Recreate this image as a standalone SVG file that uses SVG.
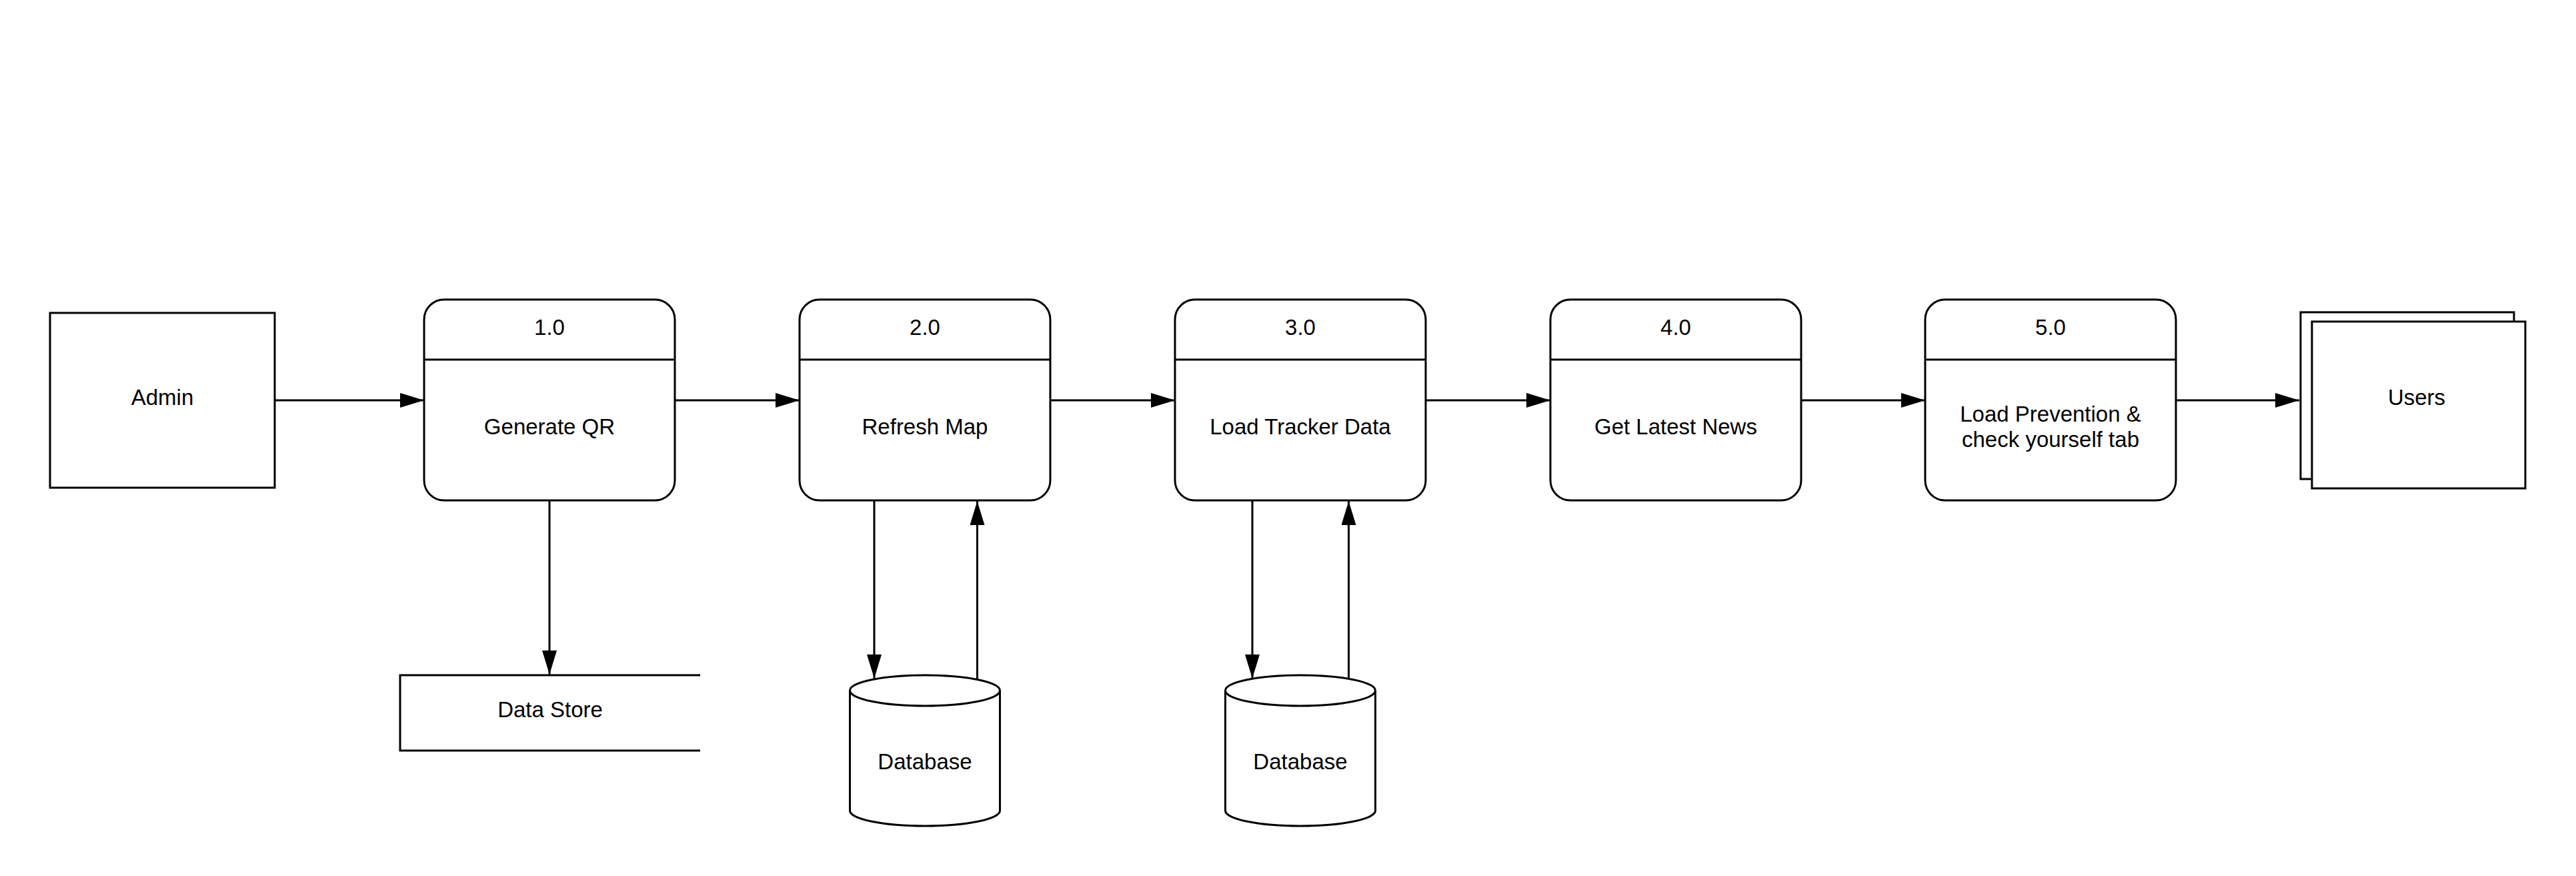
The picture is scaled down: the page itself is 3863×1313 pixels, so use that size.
<svg xmlns="http://www.w3.org/2000/svg" width="3863" height="1313" viewBox="0 0 3863 1313">
<defs>
<style>
.s{fill:#fff;stroke:#000;stroke-width:3}
.o{fill:none;stroke:#000;stroke-width:3}
.t{font-family:"Liberation Sans",Arial,sans-serif;font-size:33px;fill:#000;text-anchor:middle}
.c{fill:none;stroke:#000;stroke-width:3}
</style>
<marker id="ah" markerWidth="36" markerHeight="22" refX="36" refY="11" orient="auto" markerUnits="userSpaceOnUse">
<path d="M0,0 L36,11 L0,22 Z" fill="#000"/>
</marker>
</defs>
<rect width="3863" height="1313" fill="#fff"/>
<g id="admin">
<rect class="s" x="75" y="469" width="337" height="262"/>
<text class="t" x="243.5" y="607">Admin</text>
</g>
<g id="p1">
<rect class="s" x="636" y="449" width="376" height="301" rx="30" ry="30"/>
<line class="o" x1="636" y1="539" x2="1012" y2="539"/>
<text class="t" x="824" y="502">1.0</text>
<text class="t" x="824" y="651">Generate QR</text>
</g>
<g id="p2">
<rect class="s" x="1199" y="449" width="376" height="301" rx="30" ry="30"/>
<line class="o" x1="1199" y1="539" x2="1575" y2="539"/>
<text class="t" x="1387" y="502">2.0</text>
<text class="t" x="1387" y="651">Refresh Map</text>
</g>
<g id="p3">
<rect class="s" x="1762" y="449" width="376" height="301" rx="30" ry="30"/>
<line class="o" x1="1762" y1="539" x2="2138" y2="539"/>
<text class="t" x="1950" y="502">3.0</text>
<text class="t" x="1950" y="651">Load Tracker Data</text>
</g>
<g id="p4">
<rect class="s" x="2325" y="449" width="376" height="301" rx="30" ry="30"/>
<line class="o" x1="2325" y1="539" x2="2701" y2="539"/>
<text class="t" x="2513" y="502">4.0</text>
<text class="t" x="2513" y="651">Get Latest News</text>
</g>
<g id="p5">
<rect class="s" x="2887" y="449" width="376" height="301" rx="30" ry="30"/>
<line class="o" x1="2887" y1="539" x2="3263" y2="539"/>
<text class="t" x="3075" y="502">5.0</text>
<text class="t" x="3075" y="632">Load Prevention &amp;</text>
<text class="t" x="3075" y="670">check yourself tab</text>
</g>
<g id="users">
<rect class="s" x="3450" y="468" width="320" height="250"/>
<rect class="s" x="3467" y="482" width="320" height="250"/>
<text class="t" x="3624" y="607">Users</text>
</g>
<g id="datastore">
<path class="o" d="M1050,1012 L600,1012 L600,1125 L1050,1125"/>
<text class="t" x="825" y="1075">Data Store</text>
</g>
<g id="db1">
<path class="s" d="M1274.5,1035 L1274.5,1215 A112.5,23 0 0 0 1499.5,1215 L1499.5,1035"/>
<ellipse class="s" cx="1387" cy="1035" rx="112.5" ry="23"/>
<text class="t" x="1387" y="1153">Database</text>
</g>
<g id="db2">
<path class="s" d="M1837.5,1035 L1837.5,1215 A112.5,23 0 0 0 2062.5,1215 L2062.5,1035"/>
<ellipse class="s" cx="1950" cy="1035" rx="112.5" ry="23"/>
<text class="t" x="1950" y="1153">Database</text>
</g>
<g id="connectors">
<line class="c" x1="412" y1="600" x2="636" y2="600" marker-end="url(#ah)"/>
<line class="c" x1="1012" y1="600" x2="1199" y2="600" marker-end="url(#ah)"/>
<line class="c" x1="1575" y1="600" x2="1762" y2="600" marker-end="url(#ah)"/>
<line class="c" x1="2138" y1="600" x2="2325" y2="600" marker-end="url(#ah)"/>
<line class="c" x1="2701" y1="600" x2="2887" y2="600" marker-end="url(#ah)"/>
<line class="c" x1="3263" y1="600" x2="3448" y2="600" marker-end="url(#ah)"/>
<line class="c" x1="824" y1="750" x2="824" y2="1011" marker-end="url(#ah)"/>
<line class="c" x1="1311" y1="750" x2="1311" y2="1017" marker-end="url(#ah)"/>
<line class="c" x1="1465.5" y1="1018" x2="1465.5" y2="751" marker-end="url(#ah)"/>
<line class="c" x1="1878" y1="750" x2="1878" y2="1017" marker-end="url(#ah)"/>
<line class="c" x1="2022.5" y1="1018" x2="2022.5" y2="751" marker-end="url(#ah)"/>
</g>
</svg>
